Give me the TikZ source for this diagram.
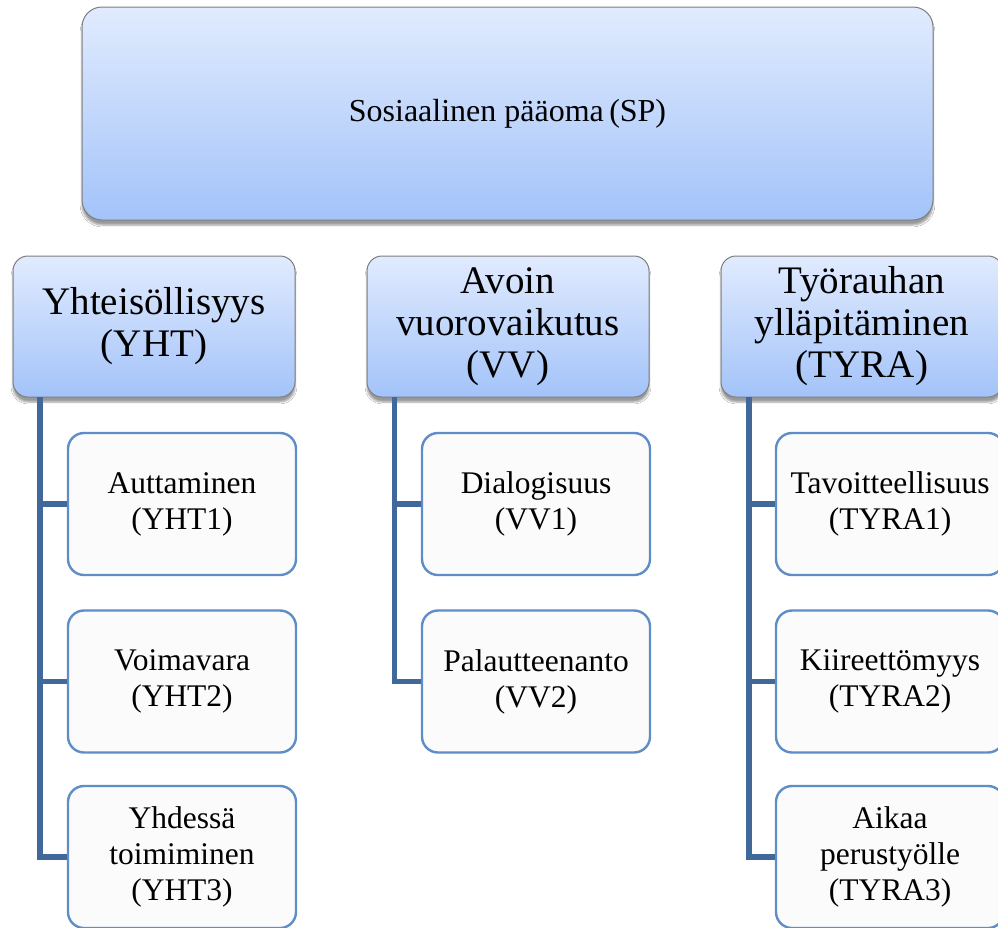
\documentclass[tikz,border=0pt]{standalone}
\usepackage{fontspec}
\setmainfont{Liberation Serif}
\usetikzlibrary{shadows.blur}
\definecolor{gradtop}{HTML}{E1EBFE}
\definecolor{gradbot}{HTML}{A3C3F9}
\definecolor{boxgray}{HTML}{7E7E7E}
\definecolor{childline}{HTML}{5E8DC8}
\definecolor{childfill}{HTML}{FBFBFB}
\definecolor{trunkblue}{HTML}{41689A}
\tikzset{
  x=1pt, y=-1pt,
  rootbox/.style={draw=boxgray, line width=1pt, rounded corners=20pt,
    top color=gradtop, bottom color=gradbot, align=center,
    blur shadow={shadow xshift=0pt, shadow yshift=-5pt, shadow blur steps=6, shadow opacity=40},
    font=\fontsize{32}{36}\selectfont, inner sep=0pt},
  headbox/.style={draw=boxgray, line width=1pt, rounded corners=15pt,
    top color=gradtop, bottom color=gradbot, align=center,
    blur shadow={shadow xshift=0pt, shadow yshift=-5pt, shadow blur steps=6, shadow opacity=40},
    minimum width=282pt, minimum height=141pt,
    font=\fontsize{39}{42}\selectfont, inner sep=0pt},
  leafbox/.style={draw=childline, line width=2.4pt, rounded corners=16pt,
    fill=childfill, align=center, minimum width=228pt, minimum height=142pt,
    font=\fontsize{31.5}{36}\selectfont, inner sep=0pt},
  trunk/.style={draw=trunkblue, line width=5.5pt},
}
\begin{document}
\begin{tikzpicture}
\useasboundingbox (0,0) rectangle (998,927);
\clip (0,0) rectangle (998,927);
\fill[white] (0,0) rectangle (998,927);

% root
\node[rootbox, minimum width=851pt, minimum height=213pt] (sp) at (507.5,113.5) {Sosiaalinen pääoma\,(SP)};

% column heads
\node[headbox] (yht)  at (154,326.5) {Yhteisöllisyys\\(YHT)};
\node[headbox] (vv)   at (508,326.5) {Avoin\\vuorovaikutus\\(VV)};
\node[headbox] (tyra) at (862,326.5) {Työrauhan\\ylläpitäminen\\(TYRA)};

% children
\node[leafbox] (yht1) at (182,504)   {Auttaminen\\(YHT1)};
\node[leafbox] (yht2) at (182,681.5) {Voimavara\\(YHT2)};
\node[leafbox] (yht3) at (182,857)   {Yhdessä\\toimiminen\\(YHT3)};

\node[leafbox] (vv1)  at (536,504)   {Dialogisuus\\(VV1)};
\node[leafbox] (vv2)  at (536,681.5) {Palautteenanto\\(VV2)};

\node[leafbox] (tyra1) at (890,504)   {Tavoitteellisuus\\(TYRA1)};
\node[leafbox] (tyra2) at (890,681.5) {Kiireettömyys\\(TYRA2)};
\node[leafbox] (tyra3) at (890,857)   {Aikaa\\perustyölle\\(TYRA3)};

% trunk starting points under each head
\coordinate (tyht)  at (40,397);
\coordinate (tvv)   at (394.5,397);
\coordinate (ttyra) at (749,397);

% connectors
\draw[trunk] (tyht) |- (yht3.west);
\draw[trunk] (tyht |- yht1.west) -- (yht1.west);
\draw[trunk] (tyht |- yht2.west) -- (yht2.west);

\draw[trunk] (tvv) |- (vv2.west);
\draw[trunk] (tvv |- vv1.west) -- (vv1.west);

\draw[trunk] (ttyra) |- (tyra3.west);
\draw[trunk] (ttyra |- tyra1.west) -- (tyra1.west);
\draw[trunk] (ttyra |- tyra2.west) -- (tyra2.west);
\end{tikzpicture}
\end{document}
